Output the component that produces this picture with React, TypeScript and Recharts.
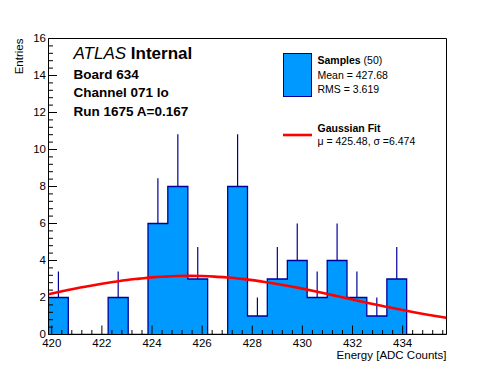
import React from 'react';
import { ComposedChart, Area, Line, XAxis, YAxis, ErrorBar, ReferenceArea } from 'recharts';

// Histogram bin edges (ADC counts), 20 bins
const binEdges = [
  419.87, 420.66, 421.46, 422.25, 423.05, 423.84, 424.63, 425.43, 426.22, 427.02,
  427.81, 428.6, 429.4, 430.19, 430.99, 431.78, 432.57, 433.37, 434.16, 434.96, 435.75,
];
// Entries per bin
const counts = [2, 0, 0, 2, 0, 6, 8, 3, 0, 8, 1, 3, 4, 2, 4, 2, 1, 3, 0, 0];
// Upper error per bin
const errors = [1.41, 0, 0, 1.41, 0, 2.45, 2.83, 1.73, 0, 2.83, 1, 1.73, 2, 1.41, 2, 1.41, 1, 1.73, 0, 0];

// Gaussian fit curve
const fitX = [
  419.87, 420.5, 421, 421.5, 422, 422.5, 423, 423.5, 424, 424.5, 425, 425.5, 426, 426.5, 427, 427.5,
  428, 428.5, 429, 429.5, 430, 430.5, 431, 431.5, 432, 432.5, 433, 433.5, 434, 434.5, 435, 435.75,
];
const fitY = [
  2.18, 2.36, 2.5, 2.62, 2.74, 2.85, 2.95, 3.02, 3.09, 3.13, 3.16, 3.17, 3.16, 3.13, 3.08, 3.02,
  2.94, 2.84, 2.73, 2.61, 2.48, 2.34, 2.19, 2.04, 1.89, 1.74, 1.59, 1.46, 1.32, 1.19, 1.07, 0.9,
];

const xMajorTicks = [420, 422, 424, 426, 428, 430, 432, 434];
const yMajorTicks = [0, 2, 4, 6, 8, 10, 12, 14, 16];

const X_MIN = binEdges[0];
const X_MAX = binEdges[binEdges.length - 1];
const Y_MAX = 16;

const FONT = '"Liberation Sans", Arial, Helvetica, sans-serif';
const FILL = '#0099ff';
const EDGE = '#000099';

const histData = binEdges.map((e, i) => ({ x: e, y: i < counts.length ? counts[i] : counts[counts.length - 1] }));
const errData = counts.map((c, i) => ({ x: (binEdges[i] + binEdges[i + 1]) / 2, y: c, err: [0, errors[i]] }));
const fitData = fitX.map((x, i) => ({ x, y: fitY[i] }));

const xTicks: number[] = [];
for (let k = 0; 420 + 0.4 * k <= X_MAX + 1e-9; k++) xTicks.push(Math.round((420 + 0.4 * k) * 10) / 10);
const yTicks: number[] = [];
for (let k = 0; 0.4 * k <= Y_MAX + 1e-9; k++) yTicks.push(Math.round(0.4 * k * 10) / 10);

const isMajor = (arr: number[], v: number) => arr.some((m) => Math.abs(m - v) < 1e-6);

const XTick = (props: any) => {
  const { x, y, payload } = props;
  const v = payload.value;
  const major = isMajor(xMajorTicks, v);
  return (
    <g>
      <line x1={x} y1={y} x2={x} y2={y - (major ? 9 : 4.5)} stroke="#000" strokeWidth={1} />
      {major && (
        <text x={x} y={y + 12} textAnchor="middle" fontSize={11.5} fontFamily={FONT} fill="#000">
          {v}
        </text>
      )}
    </g>
  );
};

const YTick = (props: any) => {
  const { x, y, payload } = props;
  const v = payload.value;
  const major = isMajor(yMajorTicks, v);
  return (
    <g>
      <line x1={x} y1={y} x2={x + (major ? 8.5 : 4.5)} y2={y} stroke="#000" strokeWidth={1} />
      {major && (
        <text x={x - 2.5} y={y + 3.5} textAnchor="end" fontSize={11.5} fontFamily={FONT} fill="#000">
          {v}
        </text>
      )}
    </g>
  );
};

export default function App() {
  return (
    <div style={{ position: 'absolute', left: 0, top: 0, width: 496, height: 372, background: '#fff' }}>
      <ComposedChart
        width={496}
        height={372}
        margin={{ top: 38.5, right: 49.5, bottom: 0, left: 0 }}
      >
        <Area
          data={histData}
          dataKey="y"
          type="stepAfter"
          stroke={EDGE}
          strokeWidth={1.3}
          fill={FILL}
          fillOpacity={1}
          isAnimationActive={false}
          dot={false}
          activeDot={false}
        />
        <Line
          data={errData}
          dataKey="y"
          stroke="none"
          dot={false}
          activeDot={false}
          isAnimationActive={false}
        >
          <ErrorBar dataKey="err" direction="y" width={0} stroke={EDGE} strokeWidth={1.2} isAnimationActive={false} />
        </Line>
        <Line
          data={fitData}
          dataKey="y"
          type="monotone"
          stroke="#ff0000"
          strokeWidth={2.6}
          dot={false}
          activeDot={false}
          isAnimationActive={false}
        />
        <XAxis
          type="number"
          dataKey="x"
          domain={[X_MIN, X_MAX]}
          allowDataOverflow
          ticks={xTicks}
          interval={0}
          tick={<XTick />}
          tickLine={false}
          axisLine={false}
          tickSize={0}
          tickMargin={0}
          height={37.5}
        />
        <YAxis
          type="number"
          domain={[0, Y_MAX]}
          allowDataOverflow
          ticks={yTicks}
          interval={0}
          tick={<YTick />}
          tickLine={false}
          axisLine={false}
          tickSize={0}
          tickMargin={0}
          width={48.5}
        />
        <ReferenceArea x1={X_MIN} x2={X_MAX} y1={0} y2={Y_MAX} fill="none" stroke="#000" strokeWidth={1} ifOverflow="visible" />
      </ComposedChart>
      <svg
        width={496}
        height={372}
        style={{ position: 'absolute', left: 0, top: 0, pointerEvents: 'none' }}
        fontFamily={FONT}
      >
        <text transform="translate(23,38.5) rotate(-90)" textAnchor="end" fontSize={11.5} fill="#000">
          Entries
        </text>
        <text x={446.5} y={358.5} textAnchor="end" fontSize={11.5} fill="#000">
          Energy [ADC Counts]
        </text>

        <text x={73.5} y={59} fontSize={17} fill="#000">
          <tspan fontStyle="italic">ATLAS</tspan>
          <tspan fontWeight="bold"> Internal</tspan>
        </text>
        <text x={73.5} y={78.5} fontSize={13.5} fontWeight="bold" fill="#000">Board 634</text>
        <text x={73.5} y={97} fontSize={13.5} fontWeight="bold" fill="#000">Channel 071 lo</text>
        <text x={73.5} y={115.5} fontSize={13.5} fontWeight="bold" fill="#000">Run 1675 A=0.167</text>

        <rect x={283.5} y={53.5} width={28} height={43} fill={FILL} stroke={EDGE} strokeWidth={1} />
        <text x={317.5} y={63.5} fontSize={10.5} fill="#000">
          <tspan fontWeight="bold">Samples</tspan>
          <tspan> (50)</tspan>
        </text>
        <text x={317.5} y={79} fontSize={10.5} fill="#000">Mean = 427.68</text>
        <text x={317.5} y={92.5} fontSize={10.5} fill="#000">RMS = 3.619</text>

        <line x1={283} y1={135} x2={312} y2={135} stroke="#ff0000" strokeWidth={2.6} />
        <text x={317.5} y={131.5} fontSize={10.5} fontWeight="bold" fill="#000">Gaussian Fit</text>
        <text x={317.5} y={145} fontSize={10.5} fill="#000">μ = 425.48, σ =6.474</text>
      </svg>
    </div>
  );
}
